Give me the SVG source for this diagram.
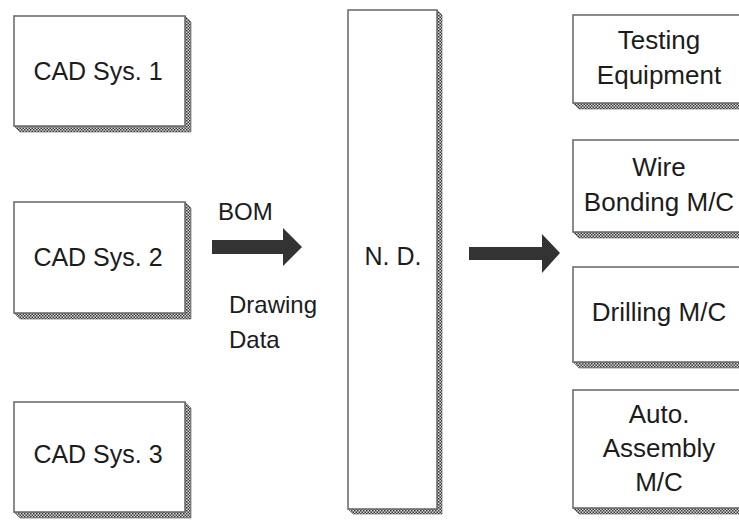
<svg xmlns="http://www.w3.org/2000/svg" width="739" height="520" viewBox="0 0 739 520">
  <defs>
    <!-- checkered shading used for the box drop shadows -->
    <pattern id="hatch" width="3" height="3" patternUnits="userSpaceOnUse">
      <rect width="3" height="3" fill="#d8d8d8"/>
      <rect width="1.5" height="1.5" fill="#3a3a3a"/>
      <rect x="1.5" y="1.5" width="1.5" height="1.5" fill="#3a3a3a"/>
    </pattern>
  </defs>
  <style>
    .box { fill: #ffffff; stroke: #6e6e6e; stroke-width: 1.6; }
    .shadow { fill: url(#hatch); stroke: #555; stroke-width: 0.6; }
    .label { font-family: "Liberation Sans", Arial, sans-serif; font-size: 25px; fill: #1c1c1c; text-anchor: middle; }
    .label.r { font-size: 26px; }
    .free { font-family: "Liberation Sans", Arial, sans-serif; font-size: 24px; fill: #1c1c1c; }
    .arrow { fill: #333333; }
  </style>
  <rect width="739" height="520" fill="#ffffff"/>

  <!-- left column: CAD systems -->
  <g id="cad1">
    <polygon class="shadow" points="185,16 191,22 191,132 20,132 14,126 185,126"/>
    <rect class="box" x="14" y="16" width="171" height="110"/>
    <text class="label" x="98" y="80">CAD Sys. 1</text>
  </g>
  <g id="cad2">
    <polygon class="shadow" points="185,202 191,208 191,319 20,319 14,313 185,313"/>
    <rect class="box" x="14" y="202" width="171" height="111"/>
    <text class="label" x="98" y="266">CAD Sys. 2</text>
  </g>
  <g id="cad3">
    <polygon class="shadow" points="185,402 191,408 191,518 20,518 14,512 185,512"/>
    <rect class="box" x="14" y="402" width="171" height="110"/>
    <text class="label" x="98" y="463">CAD Sys. 3</text>
  </g>

  <!-- centre: network distributor -->
  <g id="nd">
    <polygon class="shadow" points="437,10 442,15 442,514 353,514 348,509 437,509"/>
    <rect class="box" x="348" y="10" width="89" height="499"/>
    <text class="label" x="393" y="265">N. D.</text>
  </g>

  <!-- right column: shop-floor machines -->
  <g id="testing">
    <polygon class="shadow" points="745,15 745,109 579,109 573,103 745,103"/>
    <rect class="box" x="573" y="15" width="175" height="88"/>
    <text class="label r" x="659" y="49">Testing</text>
    <text class="label r" x="659" y="84">Equipment</text>
  </g>
  <g id="wire-bonding">
    <polygon class="shadow" points="745,140 745,238 579,238 573,232 745,232"/>
    <rect class="box" x="573" y="140" width="175" height="92"/>
    <text class="label r" x="659" y="176">Wire</text>
    <text class="label r" x="659" y="211">Bonding M/C</text>
  </g>
  <g id="drilling">
    <polygon class="shadow" points="745,267 745,368 579,368 573,362 745,362"/>
    <rect class="box" x="573" y="267" width="175" height="95"/>
    <text class="label r" x="659" y="321">Drilling M/C</text>
  </g>
  <g id="assembly">
    <polygon class="shadow" points="745,390 745,514 579,514 573,508 745,508"/>
    <rect class="box" x="573" y="390" width="175" height="118"/>
    <text class="label r" x="659" y="423">Auto.</text>
    <text class="label r" x="659" y="457">Assembly</text>
    <text class="label r" x="659" y="491">M/C</text>
  </g>

  <!-- data flow arrows -->
  <g id="connectors">
    <polygon class="arrow" points="212,240 283,240 283,228 302,247 283,266 283,254 212,254"/>
    <polygon class="arrow" points="469,247 542,247 542,234 560,253 542,273 542,260 469,260"/>
    <text class="free" x="218" y="220">BOM</text>
    <text class="free" x="229" y="313">Drawing</text>
    <text class="free" x="229" y="348">Data</text>
  </g>
</svg>
